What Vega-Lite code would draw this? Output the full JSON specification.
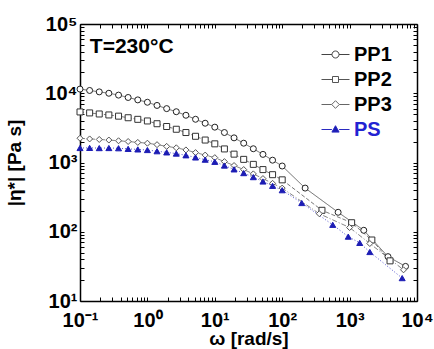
{
  "$schema": "https://vega.github.io/schema/vega-lite/v6.json",
  "width": 337,
  "height": 277,
  "autosize": {"type": "none"},
  "padding": {"left": 80, "top": 24, "right": 17, "bottom": 48},
  "background": "white",
  "config": {
    "view": {"stroke": null},
    "font": "Liberation Sans",
    "axis": {
      "labelFont": "Liberation Sans", "labelFontSize": 20, "labelFontWeight": "bold", "labelColor": "black",
      "titleFont": "Liberation Sans", "titleFontSize": 19, "titleFontWeight": "bold", "titleColor": "black",
      "domainColor": "black", "domainWidth": 1.5, "tickColor": "black", "tickWidth": 1, "tickSize": -4,
      "grid": false, "labelOverlap": false, "labelFlush": false
    }
  },
  "datasets": {
    "d": [
      {"s": "PP1", "w": 0.1, "eta": 11480}, {"s": "PP1", "w": 0.139, "eta": 10970}, {"s": "PP1", "w": 0.193, "eta": 10470},
      {"s": "PP1", "w": 0.268, "eta": 10000}, {"s": "PP1", "w": 0.373, "eta": 9400}, {"s": "PP1", "w": 0.518, "eta": 8690},
      {"s": "PP1", "w": 0.72, "eta": 8020}, {"s": "PP1", "w": 1, "eta": 7410}, {"s": "PP1", "w": 1.389, "eta": 6670},
      {"s": "PP1", "w": 1.931, "eta": 6000}, {"s": "PP1", "w": 2.683, "eta": 5410}, {"s": "PP1", "w": 3.728, "eta": 4810},
      {"s": "PP1", "w": 5.179, "eta": 4210}, {"s": "PP1", "w": 7.197, "eta": 3690}, {"s": "PP1", "w": 10, "eta": 3240},
      {"s": "PP1", "w": 13.89, "eta": 2710}, {"s": "PP1", "w": 19.31, "eta": 2270}, {"s": "PP1", "w": 26.83, "eta": 1900},
      {"s": "PP1", "w": 37.28, "eta": 1580}, {"s": "PP1", "w": 51.79, "eta": 1310}, {"s": "PP1", "w": 71.97, "eta": 1080},
      {"s": "PP1", "w": 100, "eta": 890}, {"s": "PP1", "w": 219, "eta": 427}, {"s": "PP1", "w": 676, "eta": 191},
      {"s": "PP1", "w": 1622, "eta": 105}, {"s": "PP1", "w": 3715, "eta": 43.7}, {"s": "PP1", "w": 6761, "eta": 31.6},

      {"s": "PP2", "w": 0.1, "eta": 5370}, {"s": "PP2", "w": 0.139, "eta": 5200}, {"s": "PP2", "w": 0.193, "eta": 5020},
      {"s": "PP2", "w": 0.268, "eta": 4860}, {"s": "PP2", "w": 0.373, "eta": 4670}, {"s": "PP2", "w": 0.518, "eta": 4430},
      {"s": "PP2", "w": 0.72, "eta": 4200}, {"s": "PP2", "w": 1, "eta": 3980}, {"s": "PP2", "w": 1.389, "eta": 3630},
      {"s": "PP2", "w": 1.931, "eta": 3310}, {"s": "PP2", "w": 2.683, "eta": 3020}, {"s": "PP2", "w": 3.728, "eta": 2710},
      {"s": "PP2", "w": 5.179, "eta": 2390}, {"s": "PP2", "w": 7.197, "eta": 2110}, {"s": "PP2", "w": 10, "eta": 1860},
      {"s": "PP2", "w": 13.89, "eta": 1570}, {"s": "PP2", "w": 19.31, "eta": 1320}, {"s": "PP2", "w": 26.83, "eta": 1110},
      {"s": "PP2", "w": 37.28, "eta": 940}, {"s": "PP2", "w": 51.79, "eta": 790}, {"s": "PP2", "w": 71.97, "eta": 667},
      {"s": "PP2", "w": 100, "eta": 562}, {"s": "PP2", "w": 389, "eta": 204}, {"s": "PP2", "w": 1072, "eta": 135},
      {"s": "PP2", "w": 2138, "eta": 76}, {"s": "PP2", "w": 3981, "eta": 38},

      {"s": "PP3", "w": 0.1, "eta": 2240}, {"s": "PP3", "w": 0.139, "eta": 2190}, {"s": "PP3", "w": 0.193, "eta": 2150},
      {"s": "PP3", "w": 0.268, "eta": 2110}, {"s": "PP3", "w": 0.373, "eta": 2060}, {"s": "PP3", "w": 0.518, "eta": 2010},
      {"s": "PP3", "w": 0.72, "eta": 1950}, {"s": "PP3", "w": 1, "eta": 1900}, {"s": "PP3", "w": 1.389, "eta": 1810},
      {"s": "PP3", "w": 1.931, "eta": 1710}, {"s": "PP3", "w": 2.683, "eta": 1630}, {"s": "PP3", "w": 3.728, "eta": 1520},
      {"s": "PP3", "w": 5.179, "eta": 1390}, {"s": "PP3", "w": 7.197, "eta": 1280}, {"s": "PP3", "w": 10, "eta": 1175},
      {"s": "PP3", "w": 13.89, "eta": 1030}, {"s": "PP3", "w": 19.31, "eta": 904}, {"s": "PP3", "w": 26.83, "eta": 791},
      {"s": "PP3", "w": 37.28, "eta": 685}, {"s": "PP3", "w": 51.79, "eta": 586}, {"s": "PP3", "w": 71.97, "eta": 500},
      {"s": "PP3", "w": 100, "eta": 427}, {"s": "PP3", "w": 355, "eta": 182}, {"s": "PP3", "w": 1000, "eta": 115},
      {"s": "PP3", "w": 1995, "eta": 67.6}, {"s": "PP3", "w": 6310, "eta": 28.2},

      {"s": "PS", "w": 0.1, "eta": 1620}, {"s": "PS", "w": 0.139, "eta": 1625}, {"s": "PS", "w": 0.193, "eta": 1615},
      {"s": "PS", "w": 0.268, "eta": 1618}, {"s": "PS", "w": 0.373, "eta": 1607}, {"s": "PS", "w": 0.518, "eta": 1574},
      {"s": "PS", "w": 0.72, "eta": 1545}, {"s": "PS", "w": 1, "eta": 1514}, {"s": "PS", "w": 1.389, "eta": 1455},
      {"s": "PS", "w": 1.931, "eta": 1400}, {"s": "PS", "w": 2.683, "eta": 1346}, {"s": "PS", "w": 3.728, "eta": 1271},
      {"s": "PS", "w": 5.179, "eta": 1183}, {"s": "PS", "w": 7.197, "eta": 1099}, {"s": "PS", "w": 10, "eta": 1023},
      {"s": "PS", "w": 13.89, "eta": 904}, {"s": "PS", "w": 19.31, "eta": 796}, {"s": "PS", "w": 26.83, "eta": 703},
      {"s": "PS", "w": 37.28, "eta": 615}, {"s": "PS", "w": 51.79, "eta": 532}, {"s": "PS", "w": 71.97, "eta": 460},
      {"s": "PS", "w": 100, "eta": 398}, {"s": "PS", "w": 195, "eta": 260}, {"s": "PS", "w": 562, "eta": 126},
      {"s": "PS", "w": 955, "eta": 85}, {"s": "PS", "w": 1413, "eta": 69}, {"s": "PS", "w": 1995, "eta": 51},
      {"s": "PS", "w": 6026, "eta": 21.4}
    ],
    "note": [{"w": 0.14, "eta": 46800, "label": "T=230°C"}]
  },
  "resolve": {"axis": {"x": "independent", "y": "independent"}},
  "layer": [
    {
      "data": {"name": "d"},
      "mark": {"type": "line", "strokeWidth": 0.8},
      "encoding": {
        "x": {"field": "w", "type": "quantitative",
          "scale": {"type": "log", "domain": [0.1, 10000], "nice": false},
          "axis": {"orient": "bottom", "title": "ω [rad/s]", "titleY": 43, "titleBaseline": "alphabetic",
            "labelPadding": 13,
            "values": [0.1,0.2,0.3,0.4,0.5,0.6,0.7,0.8,0.9,1,2,3,4,5,6,7,8,9,10,20,30,40,50,60,70,80,90,100,200,300,400,500,600,700,800,900,1000,2000,3000,4000,5000,6000,7000,8000,9000,10000],
            "labelExpr": "datum.value == 0.1 ? '10⁻¹' : datum.value == 1 ? '10⁰' : datum.value == 10 ? '10¹' : datum.value == 100 ? '10²' : datum.value == 1000 ? '10³' : datum.value == 10000 ? '10⁴' : ''"}},
        "y": {"field": "eta", "type": "quantitative",
          "scale": {"type": "log", "domain": [10, 100000], "nice": false},
          "axis": {"orient": "left", "title": "|η*| [Pa s]", "titlePadding": 20, "labelPadding": 7,
            "values": [10,20,30,40,50,60,70,80,90,100,200,300,400,500,600,700,800,900,1000,2000,3000,4000,5000,6000,7000,8000,9000,10000,20000,30000,40000,50000,60000,70000,80000,90000,100000],
            "labelExpr": "datum.value == 10 ? '10¹' : datum.value == 100 ? '10²' : datum.value == 1000 ? '10³' : datum.value == 10000 ? '10⁴' : datum.value == 100000 ? '10⁵' : ''"}},
        "order": {"field": "w", "type": "quantitative"},
        "color": {"field": "s", "type": "nominal", "scale": {"domain": ["PP1", "PP2", "PP3", "PS"], "range": ["#444444", "#555555", "#666666", "#2a2ac0"]},
          "legend": {"title": null, "orient": "none", "legendX": 245, "legendY": 20, "padding": 0,
            "symbolType": "circle", "symbolSize": 400, "rowPadding": 4, "labelOffset": 8,
            "labelFont": "Liberation Sans", "labelFontSize": 20, "labelFontWeight": "bold", "labelColor": "black",
            "encode": {
              "symbols": {"update": {
                "shape": {"signal": "datum.value === 'PP1' ? 'M-1.4,0H-0.35M0.35,0H1.4M-0.35,0A0.35,0.35 0 1,0 0.35,0A0.35,0.35 0 1,0 -0.35,0' : datum.value === 'PP2' ? 'M-1.4,0H-0.3M0.3,0H1.4M-0.3,-0.3H0.3V0.3H-0.3Z' : datum.value === 'PP3' ? 'M-1.4,0H-0.38M0.38,0H1.4M-0.38,0L0,-0.38L0.38,0L0,0.38Z' : 'M-1.4,0H-0.36M0.36,0H1.4M0,-0.38L0.36,0.26H-0.36Z'"},
                "stroke": {"signal": "datum.value === 'PS' ? '#2a2ac0' : '#333333'"},
                "fill": {"signal": "datum.value === 'PS' ? '#1c1cb4' : 'white'"},
                "strokeWidth": {"value": 1},
                "opacity": {"value": 1}
              }},
              "labels": {"update": {"fill": {"signal": "datum.value === 'PS' ? '#2323d2' : 'black'"}}}
            }}},
        "strokeDash": {"field": "s", "type": "nominal", "scale": {"domain": ["PS", "PP1", "PP2", "PP3"], "range": [[1, 2], [1, 0], [4, 2], [5, 2, 1, 2]]}, "legend": null}
      }
    },
    {
      "data": {"name": "d"},
      "mark": {"type": "point", "size": 36, "strokeWidth": 1, "opacity": 1},
      "encoding": {
        "x": {"field": "w", "type": "quantitative",
          "axis": {"orient": "top", "title": null, "labels": false,
            "values": [0.1,0.2,0.3,0.4,0.5,0.6,0.7,0.8,0.9,1,2,3,4,5,6,7,8,9,10,20,30,40,50,60,70,80,90,100,200,300,400,500,600,700,800,900,1000,2000,3000,4000,5000,6000,7000,8000,9000,10000]}},
        "y": {"field": "eta", "type": "quantitative",
          "axis": {"orient": "right", "title": null, "labels": false,
            "values": [10,20,30,40,50,60,70,80,90,100,200,300,400,500,600,700,800,900,1000,2000,3000,4000,5000,6000,7000,8000,9000,10000,20000,30000,40000,50000,60000,70000,80000,90000,100000]}},
        "shape": {"field": "s", "type": "nominal",
          "scale": {"domain": ["PS", "PP1", "PP2", "PP3"], "range": ["triangle-up", "circle", "square", "diamond"]}, "legend": null},
        "stroke": {"field": "s", "type": "nominal", "scale": {"domain": ["PS", "PP1", "PP2", "PP3"], "range": ["#1c1cb4", "#222222", "#333333", "#555555"]}, "legend": null},
        "fill": {"field": "s", "type": "nominal", "scale": {"domain": ["PS", "PP1", "PP2", "PP3"], "range": ["#1c1cb4", "white", "white", "white"]}, "legend": null}
      }
    },
    {
      "data": {"name": "note"},
      "mark": {"type": "text", "align": "left", "baseline": "middle", "font": "Liberation Sans", "fontSize": 21, "fontWeight": "bold", "color": "black"},
      "encoding": {
        "x": {"field": "w", "type": "quantitative", "axis": null},
        "y": {"field": "eta", "type": "quantitative", "axis": null},
        "text": {"field": "label"}
      }
    }
  ]
}
